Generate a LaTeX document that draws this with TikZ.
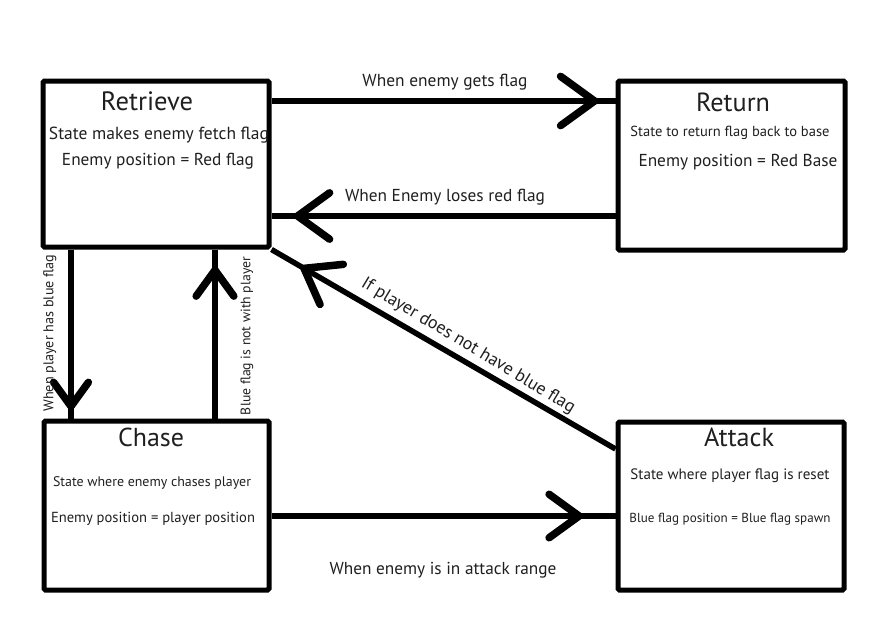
\documentclass[tikz,border=0pt]{standalone}
\usepackage{fontspec}
\usepackage{graphicx}
\setmainfont{PT Sans}
\usetikzlibrary{arrows.meta,decorations.markings}
\newcommand\fw[2]{\resizebox{#1pt}{!}{\strut #2}}
\tikzset{
  statebox/.style={draw, line width=5pt, rounded corners=1.5pt, inner sep=0pt},
  conn/.style={line width=5.5pt},
  headat/.style 2 args={postaction={decorate}, decoration={markings,
     mark=at position #1 with {\arrow[line width=7.5pt]{Straight Barb[length=#2, width=1.45*#2, round]}}}},
  lbl/.style={inner sep=0pt, text=black!88},
}
\begin{document}
\begin{tikzpicture}[x=1pt,y=-1pt]
\useasboundingbox (0,0) rectangle (894,621);
% boxes
\node[statebox, minimum width=226pt, minimum height=166pt] (ret) at (156,164) {};
\node[statebox, minimum width=227pt, minimum height=169pt] (rtn) at (731.5,165.5) {};
\node[statebox, minimum width=225pt, minimum height=169pt] (chs) at (156.5,505.5) {};
\node[statebox, minimum width=226pt, minimum height=168pt] (atk) at (731,506) {};
% box texts
\node[lbl] (retT) at (147,104) {\fw{92}{Retrieve}};
\node[lbl] (ret1) at (159,135) {\fw{220}{State makes enemy fetch flag}};
\node[lbl] (ret2) at (158,161) {\fw{192}{Enemy position = Red flag}};
\node[lbl] (rtnT) at (733,105) {\fw{74}{Return}};
\node[lbl] (rtn1) at (730,133) {\fw{199}{State to return flag back to base}};
\node[lbl] (rtn2) at (738,162) {\fw{199}{Enemy position = Red Base}};
\node[lbl] (chsT) at (151,440) {\fw{66}{Chase}};
\node[lbl] (chs1) at (152,483) {\fw{198}{State where enemy chases player}};
\node[lbl] (chs2) at (153,519) {\fw{204}{Enemy position = player position}};
\node[lbl] (atkT) at (739,440) {\fw{70}{Attack}};
\node[lbl] (atk1) at (730,476) {\fw{199}{State where player flag is reset}};
\node[lbl] (atk2) at (730,519) {\fw{201}{Blue flag position = Blue flag spawn}};
% helper coordinates
\coordinate (yA) at (0,101);
\coordinate (yB) at (0,216);
\coordinate (yC) at (0,516);
\coordinate (yD) at (0,449);
\coordinate (xA) at (71,0);
\coordinate (xB) at (215,0);
% connectors
\draw[conn, headat={0.95}{34pt}] (ret.east |- yA) -- (rtn.west |- yA);
\draw[conn, headat={0.935}{32pt}] (rtn.west |- yB) -- (ret.east |- yB);
\draw[conn, headat={0.95}{24pt}] (ret.south -| xA) -- (chs.north -| xA);
\draw[conn, headat={0.9}{26pt}] (chs.north -| xB) -- (ret.south -| xB);
\draw[conn, headat={0.915}{32pt}] (atk.west |- yD) -- (ret.south east);
\draw[conn, headat={0.905}{30pt}] (chs.east |- yC) -- (atk.west |- yC);
% connector labels
\node[lbl] (l1) at (445,82) {\fw{165}{When enemy gets flag}};
\node[lbl] (l2) at (445,197) {\fw{200}{When Enemy loses red flag}};
\node[lbl] (l3) at (443,570) {\fw{227}{When enemy is in attack range}};
\node[lbl, rotate=90] (l4) at (50,333) {\fw{157}{When player has blue flag}};
\node[lbl, rotate=90] (l5) at (247,336) {\fw{158}{Blue flag is not with player}};
\node[lbl, rotate=-31] (l6) at (468,346) {\fw{246}{If player does not have blue flag}};
\end{tikzpicture}
\end{document}
